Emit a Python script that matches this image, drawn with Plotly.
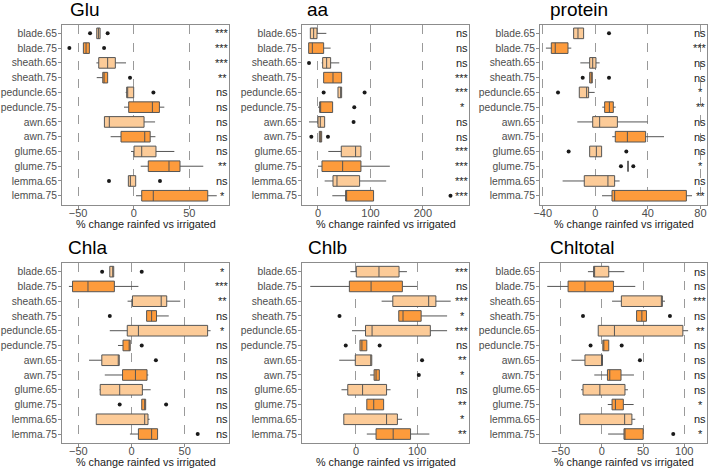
import plotly.graph_objects as go
from plotly.subplots import make_subplots

##### datos #####
cats = ["blade.65", "blade.75", "sheath.65", "sheath.75", "peduncle.65", "peduncle.75",
        "awn.65", "awn.75", "glume.65", "glume.75", "lemma.65", "lemma.75"]

glu_lo = [-33.2, -45.2, -33.5, -33.2, -7.2, -8.7, -26.3, -20.7, -2.4, 6.3, -4.8, 2.1]
glu_q1 = [-33.2, -45.2, -31.4, -27.8, -6.3, -4.5, -26.3, -11.4, 0.3, 13.1, -4.8, 7.2]
glu_med = [-31.7, -42.8, -23.4, -26.6, -5.4, 16.8, -21.9, 9.9, 7.2, 31.7, -3.0, 17.6]
glu_q3 = [-30.2, -39.8, -16.5, -23.4, 0.0, 23.1, 9.3, 14.8, 20.0, 41.6, 1.8, 66.5]
glu_hi = [-30.2, -39.8, -6.9, -23.4, 0.0, 27.5, 19.2, 19.5, 36.5, 62.5, 1.8, 74.6]
glu_out_cat = ["blade.65", "blade.65", "blade.75", "blade.75", "sheath.75", "peduncle.65", "lemma.65", "lemma.65"]
glu_out_val = [-39.2, -23.4, -57.8, -26.6, -3.3, 17.7, -22.2, 23.6]
glu_sig = ["***", "***", "***", "**", "ns", "ns", "ns", "ns", "ns", "**", "ns", "*"]

aa_lo = [-14.6, -17.8, 7.0, 10.8, 38.1, 0.0, -17.1, 2.5, 19.7, 0.0, 12.7, 27.3]
aa_q1 = [-14.6, -17.8, 8.9, 10.8, 38.1, 3.2, 0.0, 2.5, 44.4, 7.6, 28.6, 52.7]
aa_med = [-8.3, -10.8, 16.5, 28.6, 43.2, 4.4, 4.4, 4.4, 71.7, 47.0, 36.2, 54.0]
aa_q3 = [-1.9, 10.8, 24.1, 45.1, 45.1, 27.9, 12.7, 7.0, 81.9, 81.9, 79.4, 106.0]
aa_hi = [15.9, 24.1, 40.6, 45.1, 45.1, 27.9, 12.7, 7.0, 81.9, 137.0, 130.0, 106.0]
aa_out_cat = ["sheath.65", "peduncle.65", "peduncle.65", "peduncle.75", "awn.65", "awn.75", "awn.75", "lemma.75"]
aa_out_val = [-17.1, 10.8, 88.9, 69.2, 67.9, -12.7, 19.0, 252.7]
aa_sig = ["ns", "ns", "ns", "***", "***", "*", "ns", "ns", "***", "***", "***", "***"]

prot_lo = [-16.5, -37.6, -11.4, -4.3, -12.2, 5.3, -13.7, 12.9, -4.3, 24.9, -24.9, 5.1]
prot_q1 = [-16.5, -33.5, -4.3, -4.3, -12.2, 7.1, -2.0, 15.2, -4.3, 24.9, -8.4, 12.7]
prot_med = [-13.2, -30.5, -2.0, -3.0, -6.6, 10.7, 3.3, 24.4, 0.8, 24.9, 9.6, 14.7]
prot_q3 = [-8.9, -20.8, 0.5, -2.3, -5.1, 13.7, 16.8, 38.3, 4.8, 24.9, 14.7, 69.3]
prot_hi = [-8.9, -18.3, 3.3, -2.3, -0.5, 15.5, 39.8, 52.3, 4.8, 24.9, 18.5, 73.6]
prot_out_cat = ["blade.65", "sheath.75", "sheath.75", "peduncle.65", "glume.65", "glume.65", "glume.75", "glume.75"]
prot_out_val = [10.4, -9.6, 10.4, -28.4, -20.3, 23.6, 19.5, 28.9]
prot_sig = ["ns", "***", "ns", "ns", "*", "**", "ns", "ns", "ns", "*", "ns", "**"]

chla_lo = [-20.4, -58.8, -3.7, 14.2, -20.4, -12.7, -39.9, -25.1, -30.0, 9.6, -33.1, -1.5]
chla_q1 = [-20.4, -55.4, 0.9, 14.2, -4.0, -8.0, -27.9, -8.4, -29.4, 9.6, -33.1, 6.5]
chla_med = [-17.6, -40.9, 27.9, 18.9, 6.5, -2.2, -12.4, 3.7, -11.1, 12.4, 12.4, 18.9]
chla_q3 = [-16.7, -16.1, 33.1, 23.5, 71.5, -1.2, -11.5, 14.6, 10.2, 13.3, 15.5, 24.5]
chla_hi = [-16.7, 6.5, 45.8, 35.0, 74.3, -1.2, -11.5, 15.8, 18.0, 13.3, 17.0, 24.5]
chla_out_cat = ["blade.65", "blade.65", "sheath.75", "peduncle.75", "awn.65", "glume.75", "glume.75", "lemma.75"]
chla_out_val = [-27.6, 9.6, -20.4, 9.6, 22.9, -11.1, 32.5, 62.2]
chla_sig = ["*", "***", "**", "ns", "*", "ns", "ns", "ns", "ns", "ns", "ns", "ns"]

chlb_lo = [-9.1, -74.7, 41.9, 69.9, -6.5, 6.5, -27.4, 23.1, -23.7, 17.7, -19.9, 17.7]
chlb_q1 = [0.5, -10.8, 60.2, 69.9, 15.6, 6.5, -1.1, 29.6, -13.4, 17.7, -19.9, 32.8]
chlb_med = [37.6, 24.7, 118.8, 76.9, 26.3, 9.7, 24.2, 32.8, 10.8, 29.0, 50.0, 60.8]
chlb_q3 = [70.4, 75.8, 130.6, 106.5, 121.5, 17.7, 25.8, 38.2, 50.0, 45.2, 67.7, 89.2]
chlb_hi = [83.3, 100.0, 154.8, 148.9, 148.9, 17.7, 25.8, 38.2, 56.5, 45.2, 75.3, 119.9]
chlb_out_cat = ["sheath.75", "peduncle.75", "peduncle.75", "awn.65", "awn.75"]
chlb_out_val = [-26.9, -16.7, 38.7, 108.0, 102.7]
chlb_sig = ["***", "ns", "***", "*", "***", "ns", "**", "*", "ns", "**", "*", "**"]

chlt_lo = [-16.9, -66.3, 12.4, 42.2, -4.4, 1.2, -36.9, -9.2, -25.3, 7.2, -26.9, 7.6]
chlt_q1 = [-10.0, -41.0, 23.7, 42.2, -4.4, 1.2, -20.5, 6.8, -22.9, 12.4, -26.9, 26.9]
chlt_med = [-9.6, -20.5, 72.7, 48.6, 15.3, 2.0, -0.4, 9.6, -2.4, 16.5, 27.7, 27.7]
chlt_q3 = [8.4, 14.1, 73.5, 54.2, 98.4, 8.4, 0.8, 23.3, 28.1, 26.1, 36.5, 50.2]
chlt_hi = [27.3, 40.6, 76.7, 54.2, 104.8, 8.4, 0.8, 39.0, 31.7, 38.6, 40.6, 50.2]
chlt_out_cat = ["sheath.75", "sheath.75", "peduncle.75", "peduncle.75", "awn.65", "lemma.75"]
chlt_out_val = [-22.9, 82.7, -13.7, 24.1, 46.2, 86.7]
chlt_sig = ["ns", "ns", "***", "ns", "**", "ns", "ns", "ns", "ns", "*", "ns", "*"]

paneles = [
    ("Glu", glu_lo, glu_q1, glu_med, glu_q3, glu_hi, glu_out_cat, glu_out_val, glu_sig),
    ("aa", aa_lo, aa_q1, aa_med, aa_q3, aa_hi, aa_out_cat, aa_out_val, aa_sig),
    ("protein", prot_lo, prot_q1, prot_med, prot_q3, prot_hi, prot_out_cat, prot_out_val, prot_sig),
    ("Chla", chla_lo, chla_q1, chla_med, chla_q3, chla_hi, chla_out_cat, chla_out_val, chla_sig),
    ("Chlb", chlb_lo, chlb_q1, chlb_med, chlb_q3, chlb_hi, chlb_out_cat, chlb_out_val, chlb_sig),
    ("Chltotal", chlt_lo, chlt_q1, chlt_med, chlt_q3, chlt_hi, chlt_out_cat, chlt_out_val, chlt_sig),
]

x_rangos = [[-64.4, 85.6], [-30.5, 288], [-42.1, 85.0], [-65.3, 91.6], [-88.2, 184.7], [-75.1, 127.7]]
x_ticks = [[-50, 0, 50], [0, 100, 200], [-40, 0, 40, 80], [-50, 0, 50], [0, 100], [-50, 0, 50, 100]]
x_dom = [[62 / 708, 229 / 708], [302 / 708, 469 / 708], [540 / 708, 707 / 708]]
y_dom = [[1 - 204.6 / 469, 1 - 24.5 / 469], [1 - 442.9 / 469, 1 - 262.8 / 469]]
titulo_x = [68, 305, 548, 66, 306, 548]
eje_titulo_y = [224.3, 462]

col_claro = "#FCCB98"
col_oscuro = "#FD9B3C"
col_linea = "#555555"
fuente = "Liberation Sans, Arial, sans-serif"

fig = make_subplots(rows=2, cols=3)

for i, (nombre, lo, q1, med, q3, hi, out_cat, out_val, sig) in enumerate(paneles):
    fila = i // 3 + 1
    col = i % 3 + 1
    ## separar .65 (claro) y .75 (oscuro)
    for resto, color in [(0, col_claro), (1, col_oscuro)]:
        idx = [k for k in range(len(cats)) if k % 2 == resto]
        fig.add_trace(go.Box(
            y=[cats[k] for k in idx],
            lowerfence=[lo[k] for k in idx], q1=[q1[k] for k in idx],
            median=[med[k] for k in idx], q3=[q3[k] for k in idx],
            upperfence=[hi[k] for k in idx],
            orientation="h", fillcolor=color, width=0.72, whiskerwidth=0,
            line=dict(color=col_linea, width=1), showlegend=False, hoverinfo="skip"),
            row=fila, col=col)
    fig.add_trace(go.Scatter(x=out_val, y=out_cat, mode="markers",
                             marker=dict(color="#1a1a1a", size=4), showlegend=False),
                  row=fila, col=col)

    sufijo = "" if i == 0 else str(i + 1)
    fig.layout["xaxis" + sufijo].update(
        domain=x_dom[i % 3], range=x_rangos[i], tickvals=x_ticks[i], automargin=False,
        showgrid=True, griddash="dash", gridcolor="#9a9a9a", gridwidth=1, zeroline=False,
        showline=True, mirror=True, linecolor="#8c8c8c", linewidth=1,
        ticks="outside", ticklen=3, tickcolor="#8c8c8c", ticklabelstandoff=-5,
        tickfont=dict(size=11, color="#4D4D4D", family=fuente))
    fig.layout["yaxis" + sufijo].update(
        domain=y_dom[fila - 1], type="category", categoryorder="array", categoryarray=cats,
        range=[11.6, -0.6], showgrid=False, zeroline=False, automargin=False,
        showline=True, mirror=True, linecolor="#8c8c8c", linewidth=1,
        ticks="outside", ticklen=3, tickcolor="#8c8c8c", ticklabelstandoff=-1,
        tickfont=dict(size=10.3, color="#4D4D4D", family=fuente))

    xref = "x" + sufijo + " domain"
    yref = "y" + sufijo
    for c, s in zip(cats, sig):
        fig.add_annotation(x=0.96, y=c, xref=xref, yref=yref, text=s, showarrow=False,
                           xanchor="center", yanchor="middle",
                           font=dict(size=11, color="#1a1a1a", family=fuente))

    ## titulo del eje x
    fig.add_annotation(x=0.5, y=1 - eje_titulo_y[fila - 1] / 469, xref=xref, yref="paper",
                       text="% change rainfed vs irrigated", showarrow=False, borderpad=0,
                       xanchor="center", yanchor="middle",
                       font=dict(size=10.8, color="#1a1a1a", family=fuente))

    ## titulo del panel
    top_px = 24.5 if fila == 1 else 262.8
    fig.add_annotation(x=titulo_x[i] / 708, y=1 - (top_px - 15) / 469, xref="paper", yref="paper",
                       text=nombre, showarrow=False, xanchor="left", yanchor="middle",
                       font=dict(size=19, color="#000000", family=fuente))

fig.update_layout(width=708, height=469, margin=dict(l=0, r=0, t=0, b=0),
                  paper_bgcolor="white", plot_bgcolor="white", boxmode="overlay")

fig.write_html("out.html", config={"displayModeBar": False},
               post_script="document.body.style.margin='0';")
